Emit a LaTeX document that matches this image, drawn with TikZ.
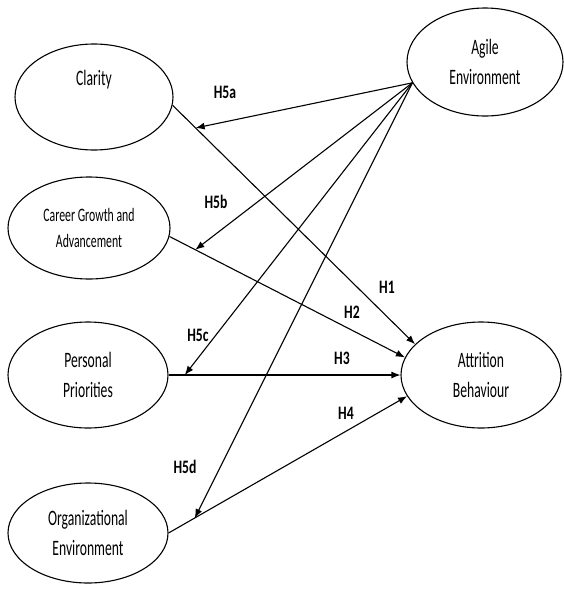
\documentclass[tikz,border=0pt]{standalone}
\usepackage{fontspec}
\setmainfont{Carlito}
\usepackage{graphicx}
\usetikzlibrary{arrows.meta,shapes.geometric}

\newcommand{\squeeze}[1]{\scalebox{0.62}[1]{#1}}
\newcommand{\hsqueeze}[1]{\scalebox{0.72}[1]{#1}}

\tikzset{
    construct/.style={ellipse, draw, line width=1.1pt, inner sep=0pt, align=center,
        font=\fontsize{22}{30}\selectfont},
    hyp/.style={font=\bfseries\fontsize{19}{22}\selectfont},
    path/.style={line width=1.1pt, -{Latex[length=9pt,width=7pt]}}
}

\begin{document}
\begin{tikzpicture}[x=1pt, y=-1pt]
            \useasboundingbox (0,0) rectangle (563,592);

            \node[construct, minimum width=158pt, minimum height=106pt] (clarity) at (94,97) {\squeeze{Clarity}\\ \strut};
            \node[construct, minimum width=162pt, minimum height=102pt, font=\fontsize{19}{26}\selectfont] (career) at (89,228) {\squeeze{Career Growth and}\\\squeeze{Advancement}};
            \node[construct, minimum width=160pt, minimum height=106pt] (personal) at (88,375) {\squeeze{Personal}\\\squeeze{Priorities}};
            \node[construct, minimum width=160pt, minimum height=100pt] (organizational) at (88,533) {\squeeze{Organizational}\\\squeeze{Environment}};
            \node[construct, minimum width=156pt, minimum height=108pt] (agile) at (485,62) {\squeeze{Agile}\\\squeeze{Environment}};
            \node[construct, minimum width=160pt, minimum height=106pt] (attrition) at (481,375) {\squeeze{Attrition}\\\squeeze{Behaviour}};

            % direct effects
            \draw[path] (clarity.-6) -- (attrition.155) coordinate[pos=0.095] (onH1);
            \draw[path] (career.-6) -- (attrition.167) coordinate[pos=0.11] (onH2);
            \draw[path] (personal.east) -- (attrition.west) coordinate[pos=0.07] (onH3);
            \draw[path] (organizational.east) -- (attrition.196) coordinate[pos=0.11] (onH4);

            % moderation
            \coordinate (agileport) at (agile.196);
            \draw[path] (agileport) -- (onH1);
            \draw[path] (agileport) -- (onH2);
            \draw[path] (agileport) -- (onH3);
            \draw[path] (agileport) -- (onH4);

            \node[hyp] (h1) at (387,287) {\hsqueeze{H1}};
            \node[hyp] (h2) at (352,312) {\hsqueeze{H2}};
            \node[hyp] (h3) at (342,358) {\hsqueeze{H3}};
            \node[hyp] (h4) at (346,413) {\hsqueeze{H4}};
            \node[hyp] (h5a) at (225,92) {\hsqueeze{H5a}};
            \node[hyp] (h5b) at (216,202) {\hsqueeze{H5b}};
            \node[hyp] (h5c) at (198,335) {\hsqueeze{H5c}};
            \node[hyp] (h5d) at (185,467) {\hsqueeze{H5d}};
        \end{tikzpicture}
\end{document}
